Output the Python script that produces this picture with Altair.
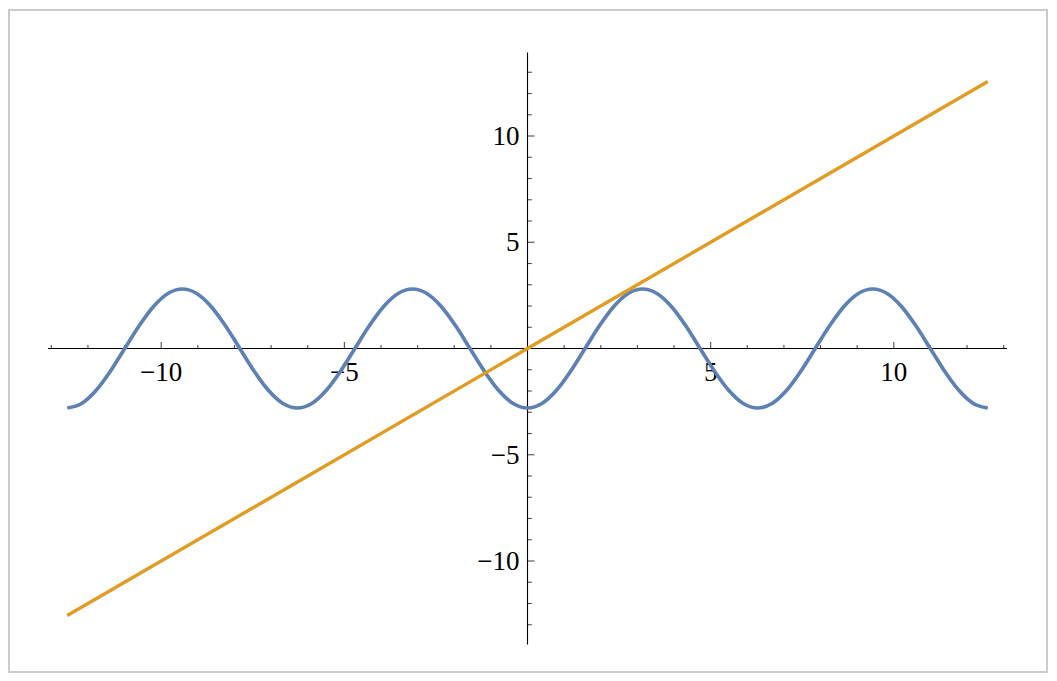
import altair as alt
import pandas as pd

# ---- data ----
curve_x = [-12.566, -12.174, -11.781, -11.388, -10.996, -10.603, -10.210, -9.817,
           -9.425, -9.032, -8.639, -8.247, -7.854, -7.461, -7.069, -6.676,
           -6.283, -5.890, -5.498, -5.105, -4.712, -4.320, -3.927, -3.534,
           -3.142, -2.749, -2.356, -1.963, -1.571, -1.178, -0.785, -0.393,
           0.0,
           0.393, 0.785, 1.178, 1.571, 1.963, 2.356, 2.749, 3.142,
           3.534, 3.927, 4.320, 4.712, 5.105, 5.498, 5.890, 6.283,
           6.676, 7.069, 7.461, 7.854, 8.247, 8.639, 9.032, 9.425,
           9.817, 10.210, 10.603, 10.996, 11.388, 11.781, 12.174, 12.566]
curve_y = [-2.8, -2.59, -1.98, -1.07, 0.0, 1.07, 1.98, 2.59,
           2.8, 2.59, 1.98, 1.07, 0.0, -1.07, -1.98, -2.59,
           -2.8, -2.59, -1.98, -1.07, 0.0, 1.07, 1.98, 2.59,
           2.8, 2.59, 1.98, 1.07, 0.0, -1.07, -1.98, -2.59,
           -2.8,
           -2.59, -1.98, -1.07, 0.0, 1.07, 1.98, 2.59, 2.8,
           2.59, 1.98, 1.07, 0.0, -1.07, -1.98, -2.59, -2.8,
           -2.59, -1.98, -1.07, 0.0, 1.07, 1.98, 2.59, 2.8,
           2.59, 1.98, 1.07, 0.0, -1.07, -1.98, -2.59, -2.8]

line_x = [-12.566, 12.566]
line_y = [-12.566, 12.566]

x_axis_extent = [-13.09, 13.09]
y_axis_extent = [-13.93, 13.93]

x_minor_ticks = [-13, -12, -11, -9, -8, -7, -6, -4, -3, -2, -1,
                 1, 2, 3, 4, 6, 7, 8, 9, 11, 12, 13]
x_major_ticks = [-10, -5, 5, 10]
x_tick_labels = ["\u221210", "\u22125", "5", "10"]

y_minor_ticks = [-13, -12, -11, -9, -8, -7, -6, -4, -3, -2, -1,
                 1, 2, 3, 4, 6, 7, 8, 9, 11, 12, 13]
y_major_ticks = [-10, -5, 5, 10]
y_tick_labels = ["\u221210", "\u22125", "5", "10"]

# ---- layout ----
W, H = 1041, 665
X_DOMAIN = [-14.183, 14.237]
Y_DOMAIN = [-15.271, 16.024]
BLUE = "#5E81B5"
ORANGE = "#E19C24"
FONT = "Liberation Serif"

xs = alt.Scale(domain=X_DOMAIN, nice=False, zero=False)
ys = alt.Scale(domain=Y_DOMAIN, nice=False, zero=False)

curve_df = pd.DataFrame({"x": curve_x, "y": curve_y})
line_df = pd.DataFrame({"x": line_x, "y": line_y})
xaxis_df = pd.DataFrame({"x": [x_axis_extent[0]], "x2": [x_axis_extent[1]]})
yaxis_df = pd.DataFrame({"y": [y_axis_extent[0]], "y2": [y_axis_extent[1]]})
xminor_df = pd.DataFrame({"x": x_minor_ticks})
xmajor_df = pd.DataFrame({"x": x_major_ticks, "label": x_tick_labels})
yminor_df = pd.DataFrame({"y": y_minor_ticks})
ymajor_df = pd.DataFrame({"y": y_major_ticks, "label": y_tick_labels})
frame_df = pd.DataFrame({"a": [0]})

frame = alt.Chart(frame_df).mark_rect(
    filled=False, stroke="#cccccc", strokeWidth=2
).encode(
    x=alt.value(1), x2=alt.value(1039), y=alt.value(2), y2=alt.value(664)
)

x_axis_line = alt.Chart(xaxis_df).mark_rule(color="black", strokeWidth=1.1).encode(
    x=alt.X("x:Q", scale=xs, axis=None),
    x2="x2:Q",
    y=alt.YDatum(0, scale=ys, axis=None),
)
y_axis_line = alt.Chart(yaxis_df).mark_rule(color="black", strokeWidth=1.1).encode(
    y=alt.Y("y:Q", scale=ys, axis=None),
    y2="y2:Q",
    x=alt.XDatum(0, scale=xs, axis=None),
)

x_minor = alt.Chart(xminor_df).mark_tick(
    orient="vertical", size=3.5, thickness=1.1, color="black", yOffset=-1.75
).encode(
    x=alt.X("x:Q", scale=xs, axis=None),
    y=alt.YDatum(0, scale=ys, axis=None),
)
x_major = alt.Chart(xmajor_df).mark_tick(
    orient="vertical", size=6.5, thickness=1.1, color="black", yOffset=-3.25
).encode(
    x=alt.X("x:Q", scale=xs, axis=None),
    y=alt.YDatum(0, scale=ys, axis=None),
)
y_minor = alt.Chart(yminor_df).mark_tick(
    orient="horizontal", size=4.3, thickness=1.1, color="black", xOffset=2.15
).encode(
    y=alt.Y("y:Q", scale=ys, axis=None),
    x=alt.XDatum(0, scale=xs, axis=None),
)
y_major = alt.Chart(ymajor_df).mark_tick(
    orient="horizontal", size=7, thickness=1.1, color="black", xOffset=3.5
).encode(
    y=alt.Y("y:Q", scale=ys, axis=None),
    x=alt.XDatum(0, scale=xs, axis=None),
)

x_labels = alt.Chart(xmajor_df).mark_text(
    font=FONT, fontSize=27, align="center", baseline="alphabetic", dy=32, color="black"
).encode(
    x=alt.X("x:Q", scale=xs, axis=None),
    y=alt.YDatum(0, scale=ys, axis=None),
    text="label:N",
)
y_labels = alt.Chart(ymajor_df).mark_text(
    font=FONT, fontSize=27, align="right", baseline="alphabetic", dx=-8, dy=9, color="black"
).encode(
    y=alt.Y("y:Q", scale=ys, axis=None),
    x=alt.XDatum(0, scale=xs, axis=None),
    text="label:N",
)

curve = alt.Chart(curve_df).mark_line(
    color=BLUE, strokeWidth=3.7, interpolate="monotone", clip=False
).encode(
    x=alt.X("x:Q", scale=xs, axis=None),
    y=alt.Y("y:Q", scale=ys, axis=None),
    order="x:Q",
)
line = alt.Chart(line_df).mark_line(
    color=ORANGE, strokeWidth=3.4
).encode(
    x=alt.X("x:Q", scale=xs, axis=None),
    y=alt.Y("y:Q", scale=ys, axis=None),
)

chart = alt.layer(
    frame, x_axis_line, y_axis_line, x_minor, x_major, y_minor, y_major,
    x_labels, y_labels, curve, line
).properties(
    width=W, height=H, padding=0,
    autosize=alt.AutoSizeParams(type="none"),
    background="white",
).configure_view(stroke=None)

chart.save("out.html", embed_options={"renderer": "svg", "actions": False})
